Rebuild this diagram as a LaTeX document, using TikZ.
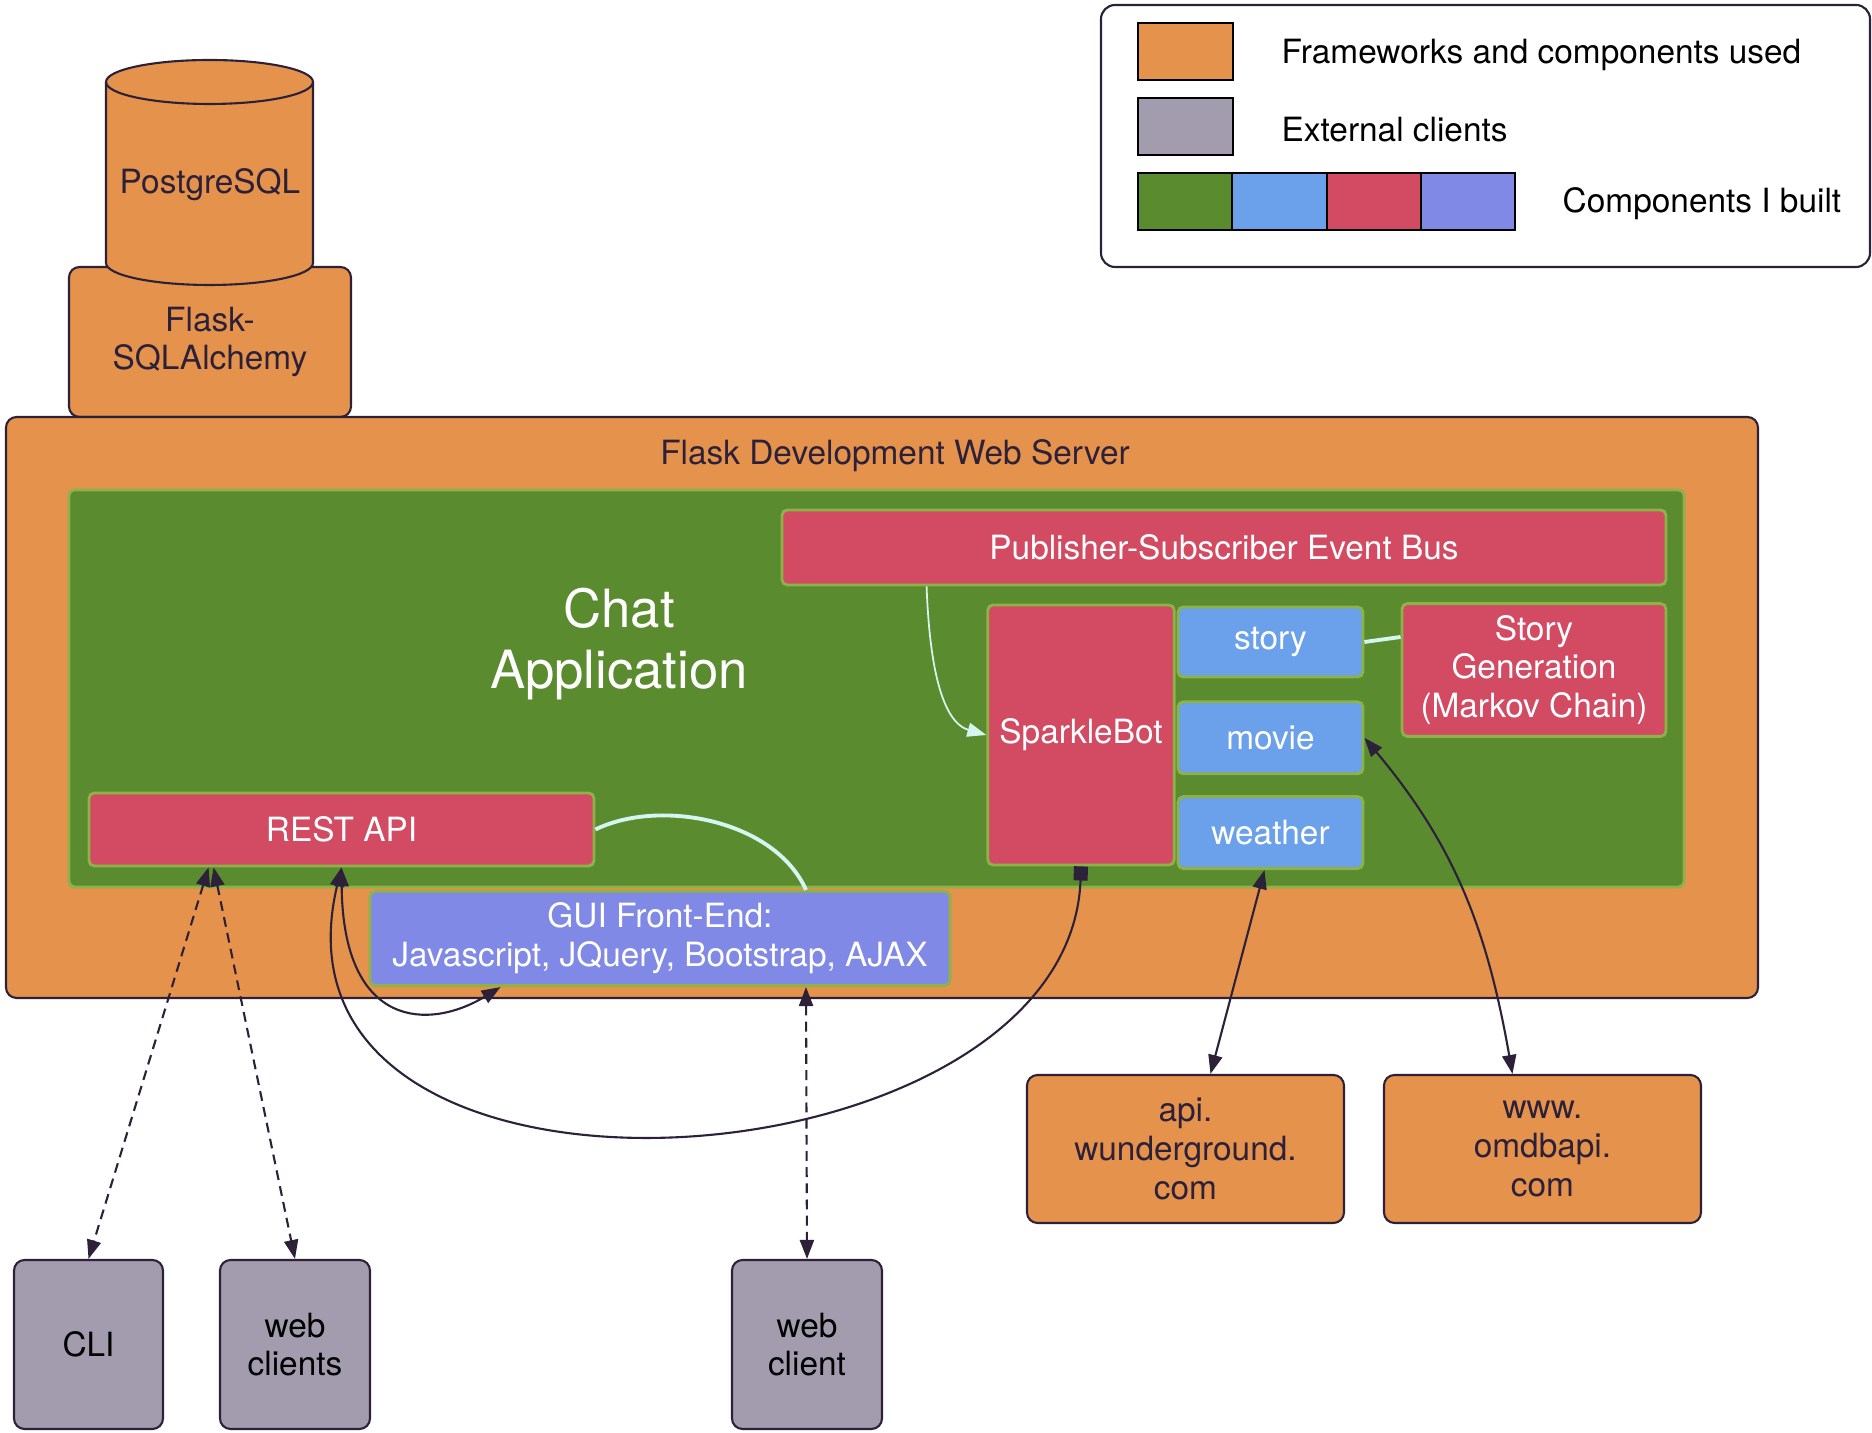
\documentclass[tikz,border=0pt]{standalone}
\usepackage{fontspec}
\setmainfont{TeX Gyre Heros}
\usetikzlibrary{arrows.meta,positioning}
\definecolor{flaskorange}{RGB}{229,147,76}
\definecolor{appgreen}{RGB}{90,139,46}
\definecolor{busred}{RGB}{210,75,98}
\definecolor{botblue}{RGB}{107,160,235}
\definecolor{guipurple}{RGB}{128,138,230}
\definecolor{clientgrey}{RGB}{163,155,174}
\definecolor{ink}{RGB}{45,33,58}
\definecolor{glow}{RGB}{140,178,72}
\definecolor{wirecyan}{RGB}{215,245,240}
\newcommand{\labelfont}{\fontsize{9.5}{11}\selectfont}
\tikzset{>={Triangle[length=5.4pt,width=4pt]}}
\tikzset{%
    used/.style={draw=ink,line width=0.6pt,fill=flaskorange,rounded corners=3pt,%
        text=ink,align=center,font=\labelfont},%
    client/.style={draw=ink,line width=0.6pt,fill=clientgrey,rounded corners=3pt,%
        text=black,align=center,font=\labelfont},%
    built/.style={draw=glow,line width=0.8pt,rounded corners=1.5pt,%
        text=white,align=center,font=\labelfont},%
    swatch/.style={draw=black,line width=0.6pt},%
    legendtext/.style={anchor=west,inner sep=0pt,text=black,font=\labelfont},%
    link/.style={draw=ink,line width=0.6pt},%
    dashlink/.style={link,dash pattern=on 2.8pt off 1.8pt,<->},%
    wire/.style={draw=wirecyan,line width=1.1pt}%
}

\begin{document}
\begin{tikzpicture}
    \useasboundingbox (0,0) rectangle (18.72,-14.33);
    % legend
    \draw[ink,line width=0.6pt,fill=white,rounded corners=4pt] (11.01,-0.05) rectangle (18.70,-2.67);
    \draw[swatch,fill=flaskorange] (11.38,-0.23) rectangle (12.33,-0.80);
    \draw[swatch,fill=clientgrey] (11.38,-0.98) rectangle (12.33,-1.55);
    \foreach \col [count=\i from 0] in {appgreen,botblue,busred,guipurple} {%
        \draw[swatch,fill=\col] (11.38+0.943*\i,-1.73) rectangle ++(0.943,-0.57);
    }
    \node[legendtext] (usedkey) at (12.81,-0.55) {Frameworks and components used};
    \node[legendtext] (clientkey) at (12.81,-1.30) {External clients};
    \node[legendtext] (builtkey) at (15.62,-2.04) {Components I built};
    % database
    \node[used,minimum width=2.82cm,minimum height=1.50cm] (orm) at (2.10,-3.42) {Flask-\\SQLAlchemy};
    \draw[ink,line width=0.6pt,fill=flaskorange] (1.06,-0.82) -- (1.06,-2.63)
        arc[start angle=180,end angle=360,x radius=1.035,y radius=0.22] -- (3.13,-0.82)
        arc[start angle=0,end angle=180,x radius=1.035,y radius=0.22] -- cycle;
    \draw[ink,line width=0.6pt] (1.06,-0.82) arc[start angle=180,end angle=360,x radius=1.035,y radius=0.22];
    \node[text=ink,font=\labelfont] (db) at (2.10,-1.85) {PostgreSQL};
    % web server and chat application
    \node[used,minimum width=17.52cm,minimum height=5.81cm] (server) at (8.82,-7.075) {};
    \node[text=ink,font=\labelfont] (servertitle) at (8.95,-4.56) {Flask Development Web Server};
    \node[built,fill=appgreen,minimum width=16.15cm,minimum height=3.97cm] (app) at (8.765,-6.885) {};
    \node[text=white,align=center,font=\fontsize{15}{17.6}\selectfont] (apptitle) at (6.19,-6.44) {Chat\\Application};
    \node[built,fill=busred,minimum width=8.84cm,minimum height=0.75cm] (bus) at (12.24,-5.475) {Publisher-Subscriber Event Bus};
    \node[built,fill=busred,minimum width=1.82cm,minimum height=2.60cm] (bot) at (10.81,-7.35) {SparkleBot};
    \node[built,fill=botblue,minimum width=1.85cm,minimum height=0.70cm] (story) at (12.705,-6.42) {story};
    \node[built,fill=botblue,minimum width=1.85cm,minimum height=0.72cm,below=0.22cm of story] (movie) {movie};
    \node[built,fill=botblue,minimum width=1.85cm,minimum height=0.72cm,below=0.20cm of movie] (weather) {weather};
    \node[built,fill=busred,minimum width=2.64cm,minimum height=1.30cm] (storygen) at (15.34,-6.70) {Story\\Generation\\(Markov Chain)};
    \node[built,fill=busred,minimum width=5.05cm,minimum height=0.73cm] (rest) at (3.415,-8.295) {REST API};
    \node[built,fill=guipurple,minimum width=5.80cm,minimum height=0.87cm] (gui) at (6.60,-9.385) {GUI Front-End:\\Javascript, JQuery, Bootstrap, AJAX};
    % outside services and clients
    \node[used,minimum width=3.17cm,minimum height=1.48cm] (wunder) at (11.855,-11.49) {api.\\wunderground.\\com};
    \node[used,minimum width=3.17cm,minimum height=1.48cm] (omdb) at (15.425,-11.49) {www.\\omdbapi.\\com};
    \node[client,minimum width=1.49cm,minimum height=1.69cm] (cli) at (0.885,-13.445) {CLI};
    \node[client,minimum width=1.50cm,minimum height=1.69cm] (webclients) at (2.95,-13.445) {web\\clients};
    \node[client,minimum width=1.50cm,minimum height=1.69cm] (webclient) at (8.07,-13.445) {web\\client};
    % connectors
    \draw[wire,line width=0.5pt,->] ([xshift=1.46cm]bus.south west) .. controls +(0.04,-1.1) and +(-0.35,0.1) .. (bot.west);
    \draw[wire] (story.east) -- ([yshift=0.33cm]storygen.west);
    \draw[wire] (rest.east) .. controls (6.6,-7.98) and (7.75,-8.2) .. ([xshift=1.46cm]gui.north);
    \draw[link,{Square[length=4pt,width=4pt]}->] (bot.south) .. controls (10.70,-11.95) and (2.50,-12.50) .. (rest.south);
    \draw[link,<->] (rest.south) .. controls (3.43,-10.3) and (4.3,-10.3) .. ([xshift=1.32cm]gui.south west);
    \draw[dashlink] ([xshift=1.21cm]rest.south west) -- (cli.north);
    \draw[dashlink] ([xshift=1.26cm]rest.south west) -- (webclients.north);
    \draw[dashlink] ([xshift=1.46cm]gui.south) -- (webclient.north);
    \draw[link,<->] ([xshift=-0.06cm]weather.south) -- ([xshift=0.25cm]wunder.north);
    \draw[link,<->] (movie.east) to[out=-50,in=100] ([xshift=-0.30cm]omdb.north);
\end{tikzpicture}
\end{document}
